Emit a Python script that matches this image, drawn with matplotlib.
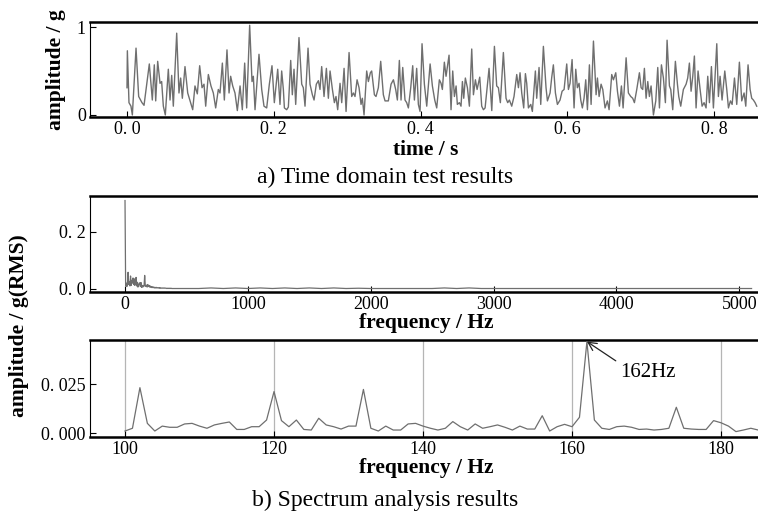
import matplotlib
matplotlib.use("Agg")
import matplotlib.pyplot as plt
import numpy as np
from matplotlib.ticker import FuncFormatter, MultipleLocator

plt.rcParams['font.family'] = ['Liberation Serif', 'DejaVu Serif']

# a) time domain signal, read off as peaks / troughs
time_s = [0.0000, 0.0005, 0.0027, 0.0054, 0.0073, 0.0123, 0.0159, 0.0204, 0.0232, 0.0304,
          0.0345, 0.0372, 0.0391, 0.0418, 0.0450, 0.0472, 0.0495, 0.0522, 0.0563, 0.0586,
          0.0609, 0.0631, 0.0677, 0.0708, 0.0731, 0.0754, 0.0790, 0.0827, 0.0867, 0.0895,
          0.0926, 0.0958, 0.0990, 0.1022, 0.1049, 0.1072, 0.1108, 0.1144, 0.1176, 0.1208,
          0.1244, 0.1267, 0.1299, 0.1326, 0.1362, 0.1390, 0.1412, 0.1440, 0.1471, 0.1503,
          0.1540, 0.1571, 0.1603, 0.1630, 0.1671, 0.1703, 0.1721, 0.1744, 0.1798, 0.1835,
          0.1866, 0.1903, 0.1939, 0.1975, 0.2007, 0.2053, 0.2084, 0.2107, 0.2130, 0.2144,
          0.2175, 0.2198, 0.2230, 0.2252, 0.2275, 0.2298, 0.2343, 0.2380, 0.2402, 0.2425,
          0.2466, 0.2493, 0.2525, 0.2548, 0.2579, 0.2607, 0.2629, 0.2652, 0.2684, 0.2716,
          0.2743, 0.2766, 0.2798, 0.2825, 0.2847, 0.2870, 0.2902, 0.2925, 0.2957, 0.2984,
          0.3025, 0.3061, 0.3084, 0.3106, 0.3134, 0.3161, 0.3188, 0.3206, 0.3229, 0.3265,
          0.3288, 0.3315, 0.3333, 0.3370, 0.3392, 0.3424, 0.3456, 0.3492, 0.3515, 0.3560,
          0.3597, 0.3629, 0.3660, 0.3683, 0.3710, 0.3733, 0.3756, 0.3787, 0.3810, 0.3833,
          0.3865, 0.3892, 0.3915, 0.3946, 0.3969, 0.3992, 0.4019, 0.4051, 0.4083, 0.4129,
          0.4160, 0.4192, 0.4219, 0.4255, 0.4278, 0.4296, 0.4323, 0.4346, 0.4387, 0.4414,
          0.4437, 0.4460, 0.4483, 0.4500, 0.4528, 0.4550, 0.4569, 0.4587, 0.4609, 0.4637,
          0.4664, 0.4696, 0.4719, 0.4746, 0.4769, 0.4805, 0.4832, 0.4855, 0.4878, 0.4910,
          0.4932, 0.4969, 0.5005, 0.5036, 0.5059, 0.5086, 0.5127, 0.5163, 0.5186, 0.5209,
          0.5241, 0.5272, 0.5309, 0.5332, 0.5354, 0.5377, 0.5404, 0.5427, 0.5445, 0.5468,
          0.5500, 0.5522, 0.5563, 0.5581, 0.5613, 0.5636, 0.5672, 0.5708, 0.5727, 0.5763,
          0.5786, 0.5808, 0.5836, 0.5863, 0.5899, 0.5927, 0.5954, 0.5990, 0.6013, 0.6035,
          0.6063, 0.6090, 0.6113, 0.6135, 0.6158, 0.6181, 0.6203, 0.6226, 0.6249, 0.6272,
          0.6299, 0.6322, 0.6354, 0.6390, 0.6408, 0.6431, 0.6458, 0.6481, 0.6512, 0.6544,
          0.6567, 0.6603, 0.6626, 0.6658, 0.6681, 0.6708, 0.6735, 0.6758, 0.6799, 0.6830,
          0.6862, 0.6889, 0.6912, 0.6944, 0.6980, 0.7003, 0.7025, 0.7048, 0.7071, 0.7094,
          0.7116, 0.7139, 0.7171, 0.7203, 0.7230, 0.7253, 0.7280, 0.7307, 0.7334, 0.7357,
          0.7389, 0.7407, 0.7434, 0.7470, 0.7498, 0.7516, 0.7543, 0.7579, 0.7616, 0.7638,
          0.7661, 0.7684, 0.7707, 0.7729, 0.7752, 0.7779, 0.7807, 0.7834, 0.7861, 0.7888,
          0.7911, 0.7934, 0.7961, 0.7988, 0.8034, 0.8056, 0.8079, 0.8106, 0.8143, 0.8170,
          0.8193, 0.8220, 0.8243, 0.8275, 0.8306, 0.8342, 0.8374, 0.8406, 0.8429, 0.8460,
          0.8488, 0.8510, 0.8533, 0.8556, 0.8578]
amp_g = [0.31, 0.73, 0.14, 0.10, 0.00, 0.76, 0.21, 0.14, 0.11, 0.58,
         0.17, 0.57, 0.16, 0.61, 0.36, 0.38, 0.10, 0.00, 0.52, 0.17,
         0.45, 0.10, 0.93, 0.25, 0.42, 0.19, 0.55, 0.25, 0.14, 0.06,
         0.33, 0.24, 0.56, 0.31, 0.35, 0.10, 0.46, 0.33, 0.25, 0.08,
         0.29, 0.25, 0.59, 0.17, 0.74, 0.25, 0.44, 0.33, 0.25, 0.05,
         0.33, 0.06, 0.59, 0.08, 1.02, 0.38, 0.44, 0.06, 0.69, 0.29,
         0.10, 0.08, 0.35, 0.56, 0.14, 0.52, 0.12, 0.50, 0.29, 0.08,
         0.06, 0.09, 0.62, 0.23, 0.52, 0.12, 0.88, 0.35, 0.31, 0.10,
         0.76, 0.35, 0.23, 0.17, 0.35, 0.39, 0.29, 0.55, 0.21, 0.53,
         0.19, 0.50, 0.29, 0.14, 0.21, 0.06, 0.36, 0.14, 0.53, 0.04,
         0.71, 0.21, 0.25, 0.21, 0.40, 0.31, 0.12, 0.19, 0.00, 0.50,
         0.38, 0.48, 0.50, 0.23, 0.21, 0.31, 0.61, 0.23, 0.16, 0.16,
         0.35, 0.40, 0.29, 0.17, 0.62, 0.17, 0.54, 0.17, 0.14, 0.08,
         0.31, 0.56, 0.17, 0.53, 0.12, 0.04, 0.81, 0.35, 0.10, 0.58,
         0.33, 0.17, 0.08, 0.40, 0.36, 0.29, 0.60, 0.44, 0.68, 0.06,
         0.50, 0.21, 0.33, 0.12, 0.14, 0.10, 0.38, 0.19, 0.42, 0.31,
         0.10, 0.75, 0.23, 0.40, 0.29, 0.43, 0.10, 0.06, 0.08, 0.35,
         0.53, 0.05, 0.78, 0.33, 0.31, 0.14, 0.71, 0.19, 0.14, 0.17,
         0.10, 0.21, 0.46, 0.31, 0.48, 0.25, 0.08, 0.47, 0.36, 0.08,
         0.12, 0.04, 0.50, 0.19, 0.54, 0.12, 0.78, 0.31, 0.16, 0.25,
         0.43, 0.57, 0.25, 0.12, 0.17, 0.27, 0.29, 0.58, 0.29, 0.36,
         0.63, 0.08, 0.52, 0.31, 0.36, 0.17, 0.08, 0.19, 0.40, 0.06,
         0.57, 0.12, 0.84, 0.23, 0.42, 0.21, 0.35, 0.29, 0.08, 0.16,
         0.06, 0.46, 0.40, 0.48, 0.27, 0.10, 0.33, 0.08, 0.65, 0.25,
         0.21, 0.19, 0.14, 0.29, 0.48, 0.31, 0.29, 0.53, 0.19, 0.38,
         0.21, 0.33, 0.00, 0.16, 0.54, 0.08, 0.57, 0.42, 0.14, 0.85,
         0.33, 0.29, 0.06, 0.61, 0.35, 0.21, 0.10, 0.29, 0.35, 0.42,
         0.59, 0.27, 0.44, 0.67, 0.08, 0.50, 0.29, 0.10, 0.14, 0.08,
         0.44, 0.14, 0.55, 0.08, 0.81, 0.21, 0.44, 0.17, 0.50, 0.29,
         0.08, 0.16, 0.12, 0.42, 0.12, 0.60, 0.16, 0.25, 0.10, 0.57,
         0.29, 0.19, 0.17, 0.14, 0.10]

# b) full spectrum: 0-400 Hz every 5 Hz, then every 100 Hz up to 5100 Hz
spec_low_freq = np.arange(0, 401, 5)
spec_low_amp = [0.310, 0.012, 0.020, 0.008, 0.018, 0.058, 0.015, 0.025, 0.010, 0.045,
                0.012, 0.030, 0.020, 0.038, 0.015, 0.035, 0.012, 0.028, 0.040, 0.010,
                0.023, 0.006, 0.012, 0.020, 0.021, 0.008, 0.022, 0.005, 0.012, 0.006,
                0.010, 0.009, 0.047, 0.012, 0.008, 0.013, 0.006, 0.015, 0.008, 0.012,
                0.006, 0.010, 0.005, 0.008, 0.004, 0.007, 0.004, 0.006, 0.003, 0.005,
                0.003, 0.005, 0.003, 0.004, 0.003, 0.004, 0.002, 0.004, 0.002, 0.003,
                0.002, 0.003, 0.002, 0.003, 0.002, 0.003, 0.002, 0.002, 0.001, 0.002,
                0.001, 0.002, 0.001, 0.002, 0.001, 0.002, 0.001, 0.001, 0.001, 0.001, 0.001]
spec_high_freq = np.arange(500, 5101, 100)
spec_high_amp = [0.001, 0.001, 0.003, 0.001, 0.003, 0.001, 0.003, 0.001, 0.003, 0.001,
                 0.003, 0.001, 0.003, 0.001, 0.002, 0.001, 0.001, 0.001, 0.001, 0.001,
                 0.001, 0.003, 0.001, 0.003, 0.001, 0.001, 0.001, 0.001, 0.001, 0.001,
                 0.001, 0.001, 0.001, 0.001, 0.001, 0.001, 0.001, 0.001, 0.001, 0.001,
                 0.001, 0.001, 0.001, 0.001, 0.001, 0.001, 0.001]

# b) zoomed spectrum 100-185 Hz, 1 Hz resolution
zoom_freq = np.arange(100, 186)
zoom_amp = [0.0012, 0.0026, 0.0233, 0.0051, 0.0012, 0.0037, 0.0031, 0.0031, 0.0048, 0.0051,
            0.0037, 0.0026, 0.0043, 0.0051, 0.0058, 0.0020, 0.0020, 0.0034, 0.0034, 0.0068,
            0.0213, 0.0065, 0.0034, 0.0068, 0.0020, 0.0017, 0.0077, 0.0043, 0.0034, 0.0022,
            0.0037, 0.0037, 0.0224, 0.0026, 0.0012, 0.0037, 0.0017, 0.0017, 0.0048, 0.0051,
            0.0037, 0.0026, 0.0017, 0.0026, 0.0060, 0.0034, 0.0017, 0.0048, 0.0026, 0.0034,
            0.0043, 0.0031, 0.0017, 0.0037, 0.0022, 0.0022, 0.0090, 0.0012, 0.0034, 0.0046,
            0.0034, 0.0082, 0.0468, 0.0068, 0.0026, 0.0020, 0.0034, 0.0037, 0.0031, 0.0020,
            0.0022, 0.0017, 0.0020, 0.0026, 0.0133, 0.0026, 0.0022, 0.0020, 0.0020, 0.0065,
            0.0054, 0.0037, 0.0009, 0.0017, 0.0026, 0.0017]
peak_freq = 162

line_col = '#6f6f6f'
W, H = 758, 513


def dotted(fmt):
    return FuncFormatter(lambda v, p: fmt.format(v).replace('.', '. '))


def style(ax):
    ax.spines['right'].set_visible(False)
    ax.spines['top'].set_linewidth(1.8)
    ax.spines['bottom'].set_linewidth(1.8)
    ax.spines['left'].set_linewidth(0.8)
    ax.tick_params(direction='in', length=4, width=0.8, labelsize=13, pad=3,
                   top=False, right=False)


fig = plt.figure(figsize=(W / 100, H / 100), dpi=100)
ax1 = fig.add_axes([90 / W, (H - 117) / H, 672 / W, 95 / H])
ax2 = fig.add_axes([90 / W, (H - 291.5) / H, 672 / W, 95.5 / H])
ax3 = fig.add_axes([90 / W, (H - 436.7) / H, 672 / W, 96.7 / H])
for a in (ax1, ax2, ax3):
    style(a)

lab = dict(fontsize=15.5, fontweight='bold')

# time domain
ax1.plot(time_s, amp_g, color=line_col, lw=1.0)
ax1.set_xlim(-0.0504, 0.865)
ax1.set_ylim(-0.023, 1.057)
ax1.set_yticks([0, 1])
ax1.xaxis.set_major_locator(MultipleLocator(0.2))
ax1.xaxis.set_major_formatter(dotted('{:.1f}'))
ax1.set_xlabel('time / s', labelpad=1, **lab)
ax1.set_ylabel('amplitude / g', labelpad=8, **lab)

# full spectrum
ax2.plot(np.concatenate([spec_low_freq, spec_high_freq]),
         spec_low_amp + spec_high_amp, color=line_col, lw=0.9)
ax2.set_xlim(-285, 5185)
ax2.set_ylim(-0.0095, 0.326)
ax2.set_yticks([0.0, 0.2])
ax2.yaxis.set_major_formatter(dotted('{:.1f}'))
ax2.xaxis.set_major_locator(MultipleLocator(1000))
ax2.set_xlabel('frequency / Hz', labelpad=0, **lab)

# zoomed spectrum
ax3.plot(zoom_freq, zoom_amp, color=line_col, lw=0.9, zorder=3)
ax3.set_xlim(95.3, 185.5)
ax3.set_ylim(-0.0017, 0.0476)
ax3.set_yticks([0.0, 0.025])
ax3.yaxis.set_major_formatter(dotted('{:.3f}'))
ax3.xaxis.set_major_locator(MultipleLocator(20))
ax3.grid(axis='x', color='#b5b5b5', lw=0.9)
ax3.set_xlabel('frequency / Hz', labelpad=0, **lab)
ax3.annotate(f'{peak_freq}Hz', xy=(peak_freq, zoom_amp[peak_freq - 100]),
             xytext=(166.4, 0.0308), fontsize=15, va='center', ha='left',
             arrowprops=dict(arrowstyle='->', color='#222222', lw=0.9,
                             relpos=(0, 1), shrinkA=1, shrinkB=0))

fig.text(19 / W, 1 - 326 / H, 'amplitude / g(RMS)', rotation=90,
         ha='center', va='center', **lab)
fig.text(385 / W, 1 - 177 / H, 'a) Time domain test results', fontsize=17,
         ha='center', va='center')
fig.text(385 / W, 1 - 500 / H, 'b) Spectrum analysis results', fontsize=17,
         ha='center', va='center')

fig.savefig('out.png', dpi=100)
